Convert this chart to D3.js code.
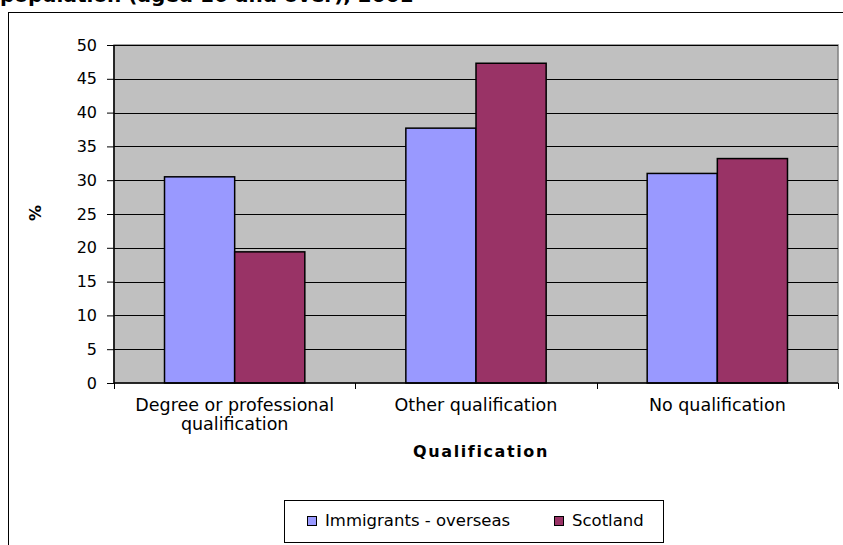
<!DOCTYPE html>
<html><head><meta charset="utf-8">
<script src="https://cdn.jsdelivr.net/npm/d3@7"></script>
<style>body{margin:0;background:#fff}svg{display:block}text{font-family:"DejaVu Sans",Verdana,sans-serif}</style>
</head><body>
<svg id="c" width="843" height="545"></svg>
<script>
const categories = ["Degree or professional|qualification", "Other qualification", "No qualification"];
const seriesNames = ["Immigrants - overseas", "Scotland"];
const immigrants = [30.5, 37.7, 31.0];
const scotland = [19.4, 47.3, 33.2];
const yTicks = [0, 5, 10, 15, 20, 25, 30, 35, 40, 45, 50];
const colors = ["#9999FF", "#993366"];

const FONT = "DejaVu Sans, Verdana, sans-serif";
const svg = d3.select("#c");
const m = {l:114, r:838, t:45, b:383};

// title (clipped at top, as in the reference)
svg.append("text").attr("x", 0).attr("y", 1.5).attr("font-size", 20).attr("font-weight", "bold")
  .text("population (aged 16 and over), 2001");

// outer frame
svg.append("rect").attr("x", 8.5).attr("y", 12.5).attr("width", 900).attr("height", 600)
  .attr("fill", "none").attr("stroke", "#000").attr("stroke-width", 1);

const x = d3.scaleBand().domain(categories).range([m.l, m.r]).paddingInner(0).paddingOuter(0);
const y = d3.scaleLinear().domain([0, 50]).range([m.b, m.t]);
const xs = d3.scaleBand().domain(seriesNames).range([0, x.bandwidth()]).paddingInner(0).paddingOuter(0.72);

// plot background
svg.append("rect").attr("x", m.l).attr("y", m.t).attr("width", m.r - m.l).attr("height", m.b - m.t)
  .attr("fill", "#C0C0C0").attr("stroke", "#808080").attr("stroke-width", 1.5);

// gridlines
svg.append("g").selectAll("line").data(yTicks.filter(d => d > 0)).join("line")
  .attr("x1", m.l).attr("x2", m.r).attr("y1", d => Math.round(y(d)) + 0.5).attr("y2", d => Math.round(y(d)) + 0.5)
  .attr("stroke", "#000").attr("stroke-width", 1);

// bars
const data = categories.map((c, i) => ({c, vals: [immigrants[i], scotland[i]]}));
const g = svg.append("g").selectAll("g").data(data).join("g").attr("transform", d => `translate(${x(d.c)},0)`);
g.selectAll("rect").data(d => d.vals.map((v, j) => ({s: seriesNames[j], v, j}))).join("rect")
  .attr("x", d => xs(d.s)).attr("width", xs.bandwidth())
  .attr("y", d => y(d.v)).attr("height", d => y(0) - y(d.v))
  .attr("fill", d => colors[d.j]).attr("stroke", "#000").attr("stroke-width", 1.5);

// y axis
const ya = svg.append("g").attr("transform", `translate(${m.l},0)`)
  .call(d3.axisLeft(y).tickValues(yTicks).tickSize(7).tickPadding(10));
ya.select(".domain").attr("stroke", "#000").attr("stroke-width", 1.5).attr("d", `M0,${m.t}V${m.b}`);
ya.selectAll(".tick line").attr("stroke", "#000");
ya.selectAll("text").attr("font-size", 16).attr("fill", "#000").attr("font-family", FONT);

// x axis
const xa = svg.append("g").attr("transform", `translate(0,${m.b})`);
xa.append("line").attr("x1", m.l).attr("x2", m.r).attr("y1", 0).attr("y2", 0).attr("stroke", "#000").attr("stroke-width", 1.5);
const bounds = categories.map(c => x(c)).concat([x(categories[categories.length - 1]) + x.bandwidth()]);
xa.selectAll("line.t").data(bounds).join("line").attr("class", "t")
  .attr("x1", d => Math.round(d) + 0.5).attr("x2", d => Math.round(d) + 0.5).attr("y1", 0).attr("y2", 6).attr("stroke", "#000");
xa.selectAll("text.cat").data(categories).join("text").attr("class", "cat")
  .attr("x", d => x(d) + x.bandwidth() / 2).attr("y", 28).attr("text-anchor", "middle").attr("font-size", 17.5)
  .each(function(d) {
    const parts = d.split("|");
    d3.select(this).selectAll("tspan").data(parts).join("tspan")
      .attr("x", x(d) + x.bandwidth() / 2).attr("dy", (p, i) => i ? 18.5 : 0).text(p => p);
  });

// axis titles
svg.append("text").attr("x", (m.l + m.r) / 2 + 5).attr("y", 457).attr("text-anchor", "middle")
  .attr("font-size", 16).attr("font-weight", "bold").attr("letter-spacing", 1.6).text("Qualification");
svg.append("text").attr("transform", "translate(41,213) rotate(-90)").attr("text-anchor", "middle")
  .attr("font-size", 16).attr("font-weight", "bold").text("%");

// legend
const lg = svg.append("g");
lg.append("rect").attr("x", 284.5).attr("y", 500.5).attr("width", 379).attr("height", 42)
  .attr("fill", "#fff").attr("stroke", "#000");
const lx = [307, 554];
seriesNames.forEach((s, i) => {
  lg.append("rect").attr("x", lx[i] + 0.5).attr("y", 516.5).attr("width", 9).attr("height", 9)
    .attr("fill", colors[i]).attr("stroke", "#000");
  lg.append("text").attr("x", lx[i] + 18).attr("y", 526).attr("font-size", 16.5).text(s);
});
</script>
</body></html>
